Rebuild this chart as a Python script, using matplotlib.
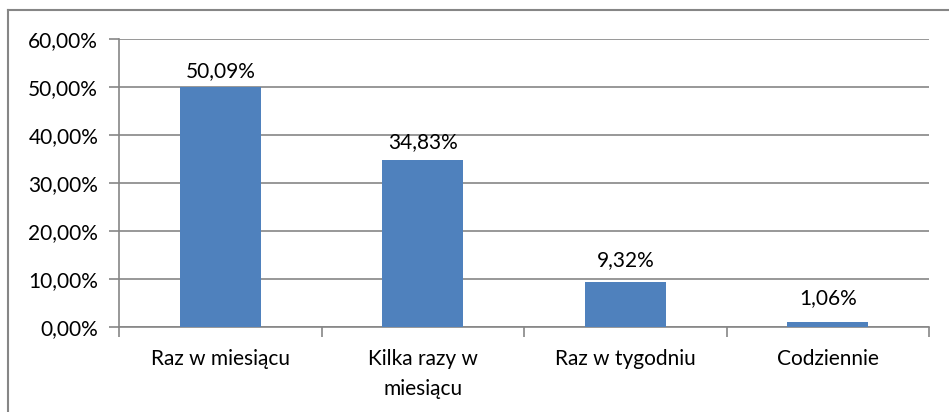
import matplotlib
matplotlib.use("Agg")
import matplotlib.pyplot as plt
from matplotlib.ticker import FuncFormatter, MultipleLocator
from matplotlib.lines import Line2D

categories = ["Raz w miesiącu", "Kilka razy w\nmiesiącu", "Raz w tygodniu", "Codziennie"]
values = [50.09, 34.83, 9.32, 1.06]
yticks = [0, 10, 20, 30, 40, 50, 60]

plt.rcParams["font.family"] = ["Lato", "DejaVu Sans"]
grey = "#868686"
fs = 15

fig = plt.figure(figsize=(9.49, 4.12), dpi=100)
ax = fig.add_axes([119 / 949, 85 / 412, 810 / 949, 288 / 412])

x = range(len(categories))
bars = ax.bar(x, values, width=0.4, color="#4F81BD", zorder=3)

for b, v in zip(bars, values):
    # labels sit a little closer to the taller bars
    gap_px = 18 - 0.17 * v
    ax.annotate(f"{v:.2f}%".replace(".", ","),
                (b.get_x() + b.get_width() / 2, v),
                xytext=(0, gap_px * 0.72 - 3), textcoords="offset points",
                ha="center", va="bottom", fontsize=fs, color="black")

ax.set_xlim(-0.5, len(categories) - 0.5)
ax.set_ylim(0, 60)
ax.set_yticks(yticks)
ax.yaxis.set_major_formatter(FuncFormatter(lambda v, p: f"{v:.2f}%".replace(".", ",")))
ax.yaxis.grid(True, color=grey, linewidth=1.2, zorder=0)

ax.set_xticks(list(x))
ax.set_xticklabels(categories, fontsize=fs, linespacing=1.6)
ax.xaxis.set_minor_locator(MultipleLocator(1, offset=0.5))
ax.tick_params(axis="x", which="major", length=0, pad=16)
ax.tick_params(axis="x", which="minor", length=7, width=1.2, color=grey, direction="out")
ax.tick_params(axis="y", length=7, width=1.2, color=grey, labelsize=fs, pad=8)

for s in ["top", "right"]:
    ax.spines[s].set_visible(False)
for s in ["left", "bottom"]:
    ax.spines[s].set_color(grey)
    ax.spines[s].set_linewidth(1.2)

# chart frame, runs off the right and bottom edge
fig.add_artist(Line2D([8 / 949, 8 / 949], [1 - 10 / 412, -0.05], color=grey, linewidth=1.5))
fig.add_artist(Line2D([8 / 949, 1.05], [1 - 10 / 412, 1 - 10 / 412], color=grey, linewidth=1.5))

fig.savefig("out.png", dpi=100)
